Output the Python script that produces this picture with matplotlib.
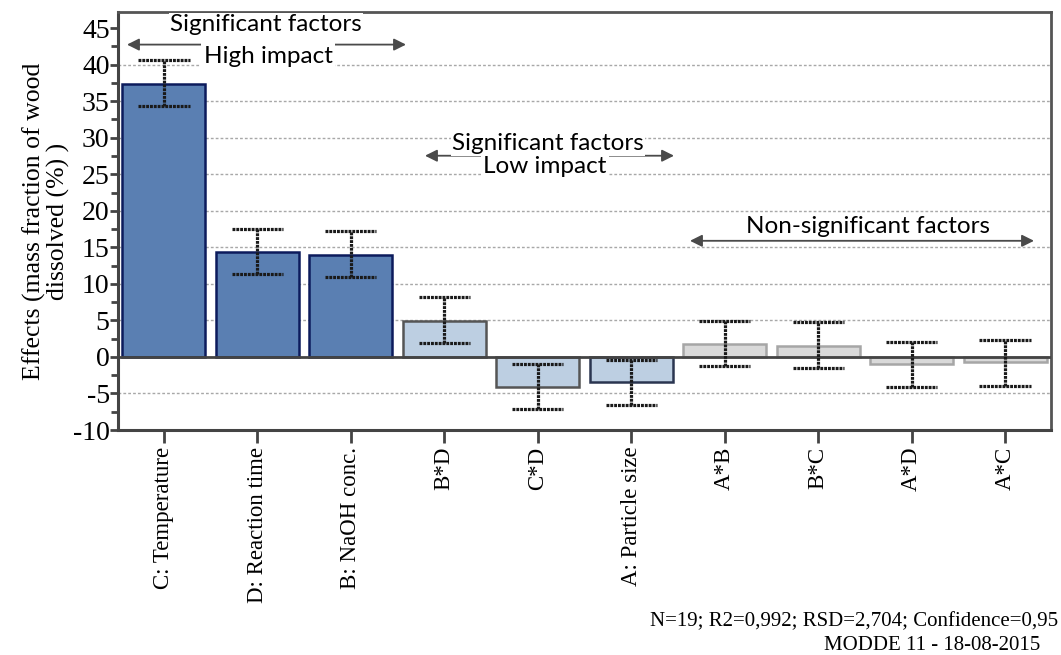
import matplotlib
matplotlib.use("Agg")
import matplotlib.pyplot as plt
from matplotlib.ticker import MultipleLocator
import matplotlib.transforms as mtrans

categories = ["C: Temperature", "D: Reaction time", "B: NaOH conc.", "B*D", "C*D",
              "A: Particle size", "A*B", "B*C", "A*D", "A*C"]
effects = [37.4, 14.3, 13.9, 4.95, -4.05, -3.4, 1.75, 1.5, -0.9, -0.75]
err_low = [34.4, 11.3, 10.95, 1.9, -7.15, -6.6, -1.3, -1.55, -4.15, -4.0]
err_high = [40.6, 17.5, 17.2, 8.2, -1.0, -0.4, 4.9, 4.75, 2.1, 2.3]
groups = ["high", "high", "high", "low", "low", "low", "ns", "ns", "ns", "ns"]

face = {"high": "#5a7fb2", "low": "#bdcfe2", "ns": "#d9d9d9"}
edge = {"high": "#0c1b5c", "low": "#555555", "ns": "#a6a6a6"}
edge_override = {5: "#2a3550", 4: "#555555"}

serif = ["Liberation Serif", "DejaVu Serif"]
sans = ["Lato", "Open Sans", "DejaVu Sans"]

fig = plt.figure(figsize=(10.61, 6.55), dpi=100)
ax = fig.add_axes([118 / 1061, 1 - 430 / 655, (1051 - 118) / 1061, (430 - 12) / 655])

x = list(range(len(categories)))
for i, (v, g) in enumerate(zip(effects, groups)):
    ax.bar(i, v, width=0.89, color=face[g], edgecolor=edge_override.get(i, edge[g]),
           linewidth=1.8, zorder=3)

ax.axhline(0, color="#444444", lw=2, zorder=4)

# error bars (finely dashed stems and caps)
eb_style = dict(colors="#1a1a1a", linewidth=2.3, linestyles=[(0, (0.9, 0.3))], zorder=5)
ax.vlines(x, err_low, err_high, **eb_style)
cap = 0.275
ax.hlines(err_low, [i - cap for i in x], [i + cap for i in x], **eb_style)
ax.hlines(err_high, [i - cap for i in x], [i + cap for i in x], **eb_style)

ax.set_xlim(-0.49, 9.49)
ax.set_ylim(-10, 47.2)
ax.yaxis.set_minor_locator(MultipleLocator(2.5))
for yv in range(-5, 45, 5):
    if yv == 0:
        continue
    ax.axhline(yv, color="#a8a8a8", lw=1, ls=(0, (2, 1.5)), zorder=1)

ax.set_xticks(x)
ax.set_xticklabels(categories, rotation=90, fontsize=16.5, family=serif)
ax.set_yticks(range(-10, 46, 5))
ax.set_yticklabels([str(v) for v in range(-10, 46, 5)], fontsize=20, family=serif)
ax.tick_params(axis="y", which="major", length=6, width=2, color="#444444", pad=0)
ax.tick_params(axis="y", which="minor", length=5, width=2, color="#444444")
ax.tick_params(axis="x", which="major", length=9, width=2, color="#444444", pad=3, direction="out")

for s in ["left", "bottom"]:
    ax.spines[s].set_color("#444444")
    ax.spines[s].set_linewidth(2.2)
for s in ["top", "right"]:
    ax.spines[s].set_color("#555555")
    ax.spines[s].set_linewidth(2)

ax.set_ylabel("Effects (mass fraction of wood\ndissolved (%) )", fontsize=18.5, family=serif,
              linespacing=1.05, labelpad=2)

trans = mtrans.blended_transform_factory(ax.transAxes, ax.transData)


def axfx(px):
    return (px - 118) / (1051 - 118)


def ydata(py):
    return (356 - py) / 7.3


def arrow(x0, x1, y):
    ax.annotate("", xy=(axfx(x0), ydata(y)), xytext=(axfx(x1), ydata(y)),
                xycoords=trans, textcoords=trans,
                arrowprops=dict(arrowstyle="<|-|>", color="#4a4a4a", lw=1.3,
                                mutation_scale=18, shrinkA=0, shrinkB=0), zorder=6)


def label(px, py, s, pad=1):
    ax.text(axfx(px), ydata(py), s, ha="center", va="center", fontsize=17.5, family=sans,
            transform=trans, zorder=7, bbox=dict(facecolor="white", edgecolor="none", pad=pad))


label(266, 24, "Significant factors")
arrow(127, 406, 44)
label(268, 56, "High impact", pad=2)

label(548, 143, "Significant factors")
arrow(425, 674, 155)
label(545, 166, "Low impact", pad=2)

label(868, 226, "Non-significant factors")
arrow(690, 1034, 240)

fig.text(1058 / 1061, 1 - 622 / 655, "N=19; R2=0,992; RSD=2,704; Confidence=0,95",
         ha="right", va="center", fontsize=15, family=serif)
fig.text(1040 / 1061, 1 - 645 / 655, "MODDE 11 - 18-08-2015",
         ha="right", va="center", fontsize=15, family=serif)

fig.savefig("out.png", dpi=100)
